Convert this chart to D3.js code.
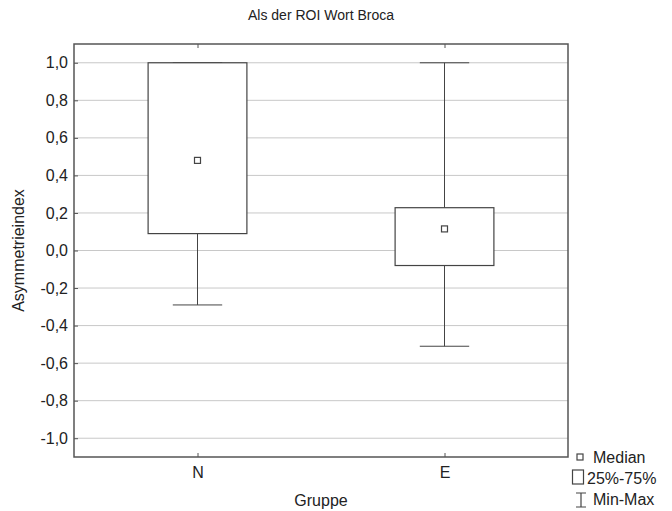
<!DOCTYPE html>
<html>
<head>
<meta charset="utf-8">
<script src="https://cdn.jsdelivr.net/npm/d3@7"></script>
<style>
  body { margin: 0; background: #fff; }
  svg text { font-family: "Liberation Sans", Arial, sans-serif; fill: #222; }
</style>
</head>
<body>
<script>
// box plot data per group
var groups = ['N', 'E'];
var mins = [-0.29, -0.51];
var q1s = [0.09, -0.08];
var medians = [0.48, 0.115];
var q3s = [1.0, 0.228];
var maxs = [1.0, 1.0];
var yTicks = [1.0, 0.8, 0.6, 0.4, 0.2, 0.0, -0.2, -0.4, -0.6, -0.8, -1.0];

var width = 672, height = 511,
  margin = { top: 44, right: 104, bottom: 54, left: 74 },
  svg = d3.select('body').append('svg')
    .attr('width', width)
    .attr('height', height);

var x = d3.scalePoint()
  .domain(groups)
  .range([margin.left, width - margin.right])
  .padding(0.5);

var y = d3.scaleLinear()
  .domain([-1.1, 1.1])
  .range([height - margin.bottom, margin.top]);

var boxW = x.step() * 0.4,
  capW = boxW / 2,
  fmt = function (d) { return d3.format('.1f')(d).replace('.', ',').replace('−', '-'); };

var data = groups.map(function (g, i) {
  return { g: g, min: mins[i], q1: q1s[i], med: medians[i], q3: q3s[i], max: maxs[i] };
});

// grid lines
svg.append('g')
  .selectAll('line')
  .data(yTicks)
  .enter()
  .append('line')
  .attr('x1', margin.left)
  .attr('x2', width - margin.right)
  .attr('y1', function (d) { return y(d); })
  .attr('y2', function (d) { return y(d); })
  .attr('stroke', '#c8c8c8')
  .attr('stroke-width', 1);

// y axis ticks + labels
var yAxis = svg.append('g')
  .attr('transform', 'translate(' + margin.left + ',0)')
  .call(d3.axisLeft(y).tickValues(yTicks).tickFormat(fmt).tickSize(-4).tickPadding(6));
yAxis.select('.domain').remove();
yAxis.selectAll('line').attr('stroke', '#555');
yAxis.selectAll('text').style('font-size', '16px').attr('fill', '#222');

// x axis ticks (bottom and top)
var xAxis = svg.append('g')
  .attr('transform', 'translate(0,' + (height - margin.bottom) + ')')
  .call(d3.axisBottom(x).tickSize(-4).tickPadding(10));
xAxis.select('.domain').remove();
xAxis.selectAll('line').attr('stroke', '#555');
xAxis.selectAll('text').style('font-size', '16px').attr('fill', '#222');

var xTop = svg.append('g')
  .attr('transform', 'translate(0,' + margin.top + ')')
  .call(d3.axisTop(x).tickSize(-4).tickFormat(''));
xTop.select('.domain').remove();
xTop.selectAll('line').attr('stroke', '#555');

// whiskers
var box = svg.append('g')
  .selectAll('g')
  .data(data)
  .enter()
  .append('g');

box.append('line')
  .attr('x1', function (d) { return x(d.g); })
  .attr('x2', function (d) { return x(d.g); })
  .attr('y1', function (d) { return y(d.max); })
  .attr('y2', function (d) { return y(d.min); })
  .attr('stroke', '#444');

box.append('line')
  .attr('x1', function (d) { return x(d.g) - capW / 2; })
  .attr('x2', function (d) { return x(d.g) + capW / 2; })
  .attr('y1', function (d) { return y(d.max); })
  .attr('y2', function (d) { return y(d.max); })
  .attr('stroke', '#444');

box.append('line')
  .attr('x1', function (d) { return x(d.g) - capW / 2; })
  .attr('x2', function (d) { return x(d.g) + capW / 2; })
  .attr('y1', function (d) { return y(d.min); })
  .attr('y2', function (d) { return y(d.min); })
  .attr('stroke', '#444');

box.append('rect')
  .attr('x', function (d) { return x(d.g) - boxW / 2; })
  .attr('width', boxW)
  .attr('y', function (d) { return y(d.q3); })
  .attr('height', function (d) { return y(d.q1) - y(d.q3); })
  .attr('fill', '#fff')
  .attr('stroke', '#444')
  .attr('stroke-width', 1.2);

box.append('rect')
  .attr('x', function (d) { return x(d.g) - 3; })
  .attr('y', function (d) { return y(d.med) - 3; })
  .attr('width', 6)
  .attr('height', 6)
  .attr('fill', '#fff')
  .attr('stroke', '#444')
  .attr('stroke-width', 1.2);

// frame
svg.append('rect')
  .attr('x', margin.left)
  .attr('y', margin.top)
  .attr('width', width - margin.left - margin.right)
  .attr('height', height - margin.top - margin.bottom)
  .attr('fill', 'none')
  .attr('stroke', '#555')
  .attr('stroke-width', 1.5);

// titles
svg.append('text')
  .attr('x', (margin.left + width - margin.right) / 2)
  .attr('y', 20)
  .attr('text-anchor', 'middle')
  .style('font-size', '14px')
  .text('Als der ROI Wort Broca');

svg.append('text')
  .attr('x', (margin.left + width - margin.right) / 2)
  .attr('y', 506)
  .attr('text-anchor', 'middle')
  .style('font-size', '16px')
  .text('Gruppe');

svg.append('text')
  .attr('transform', 'translate(24,' + y(0) + ') rotate(-90)')
  .attr('text-anchor', 'middle')
  .style('font-size', '16px')
  .text('Asymmetrieindex');

// legend
var lg = svg.append('g').attr('transform', 'translate(572,0)');
lg.append('rect')
  .attr('x', 5).attr('y', 454).attr('width', 6).attr('height', 6)
  .attr('fill', '#fff').attr('stroke', '#444').attr('stroke-width', 1.2);
lg.append('text').attr('x', 21).attr('y', 463).style('font-size', '16px').text('Median');

lg.append('rect')
  .attr('x', 0.5).attr('y', 470).attr('width', 11).attr('height', 14)
  .attr('fill', '#fff').attr('stroke', '#444').attr('stroke-width', 1.2);
lg.append('text').attr('x', 15).attr('y', 484).style('font-size', '16px').text('25%-75%');

lg.append('path')
  .attr('d', 'M4,493H14M9,493V507M4,507H14')
  .attr('fill', 'none').attr('stroke', '#444').attr('stroke-width', 1.2);
lg.append('text').attr('x', 21).attr('y', 505).style('font-size', '16px').text('Min-Max');
</script>
</body>
</html>
